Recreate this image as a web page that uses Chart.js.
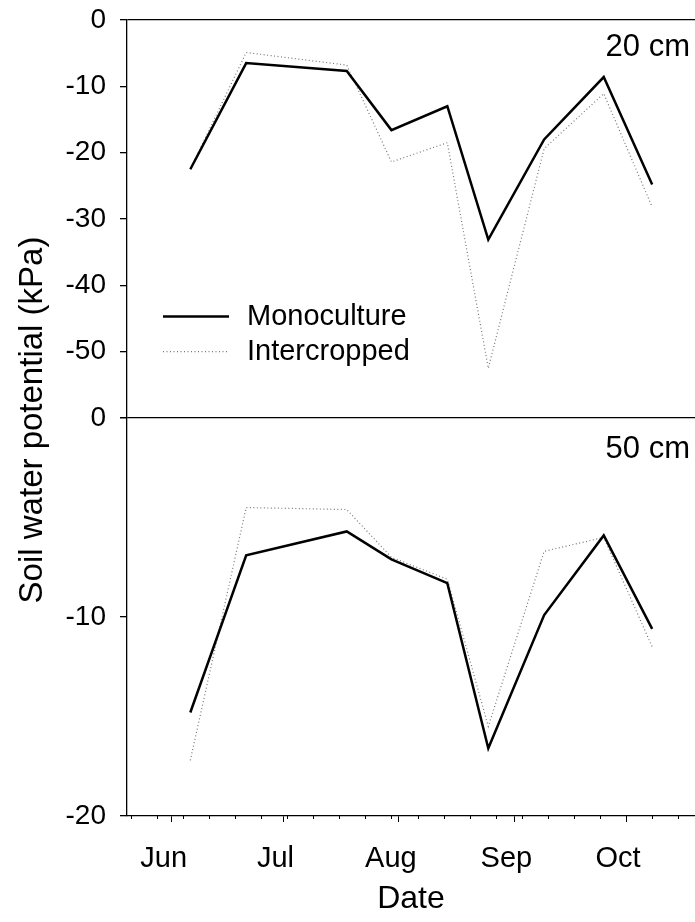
<!DOCTYPE html>
<html>
<head>
<meta charset="utf-8">
<script src="https://cdn.jsdelivr.net/npm/chart.js@4.4.1/dist/chart.umd.min.js"></script>
<style>
  html, body { margin: 0; padding: 0; background: #fff; }
</style>
</head>
<body>
<canvas id="chart" width="695" height="922"></canvas>
<script>
// sampling dates (month-day)
const dates = ["06-06", "06-21", "07-18", "07-30", "08-14", "08-25", "09-09", "09-25", "10-08"];

// soil water potential, kPa
const mono20 = [-22.5, -6.5, -7.7, -16.6, -13.0, -33.1, -18.0, -8.6, -24.8];
const inter20 = [-22.5, -4.9, -6.8, -21.4, -18.5, -52.5, -19.4, -11.1, -28.2];
const mono50 = [-14.8, -6.9, -5.7, -7.1, -8.3, -16.6, -9.9, -5.9, -10.6];
const inter50 = [-17.2, -4.5, -4.6, -7.0, -8.1, -15.5, -6.7, -6.0, -11.5];

const monthLabels = ["Jun", "Jul", "Aug", "Sep", "Oct"];
const monthStarts = ["06-01", "07-01", "08-01", "09-01", "10-01"];
const yTopTicks = [0, -10, -20, -30, -40, -50, -60];
const yBottomTicks = [0, -10, -20];

const FONT = "'Liberation Sans', Arial, sans-serif";
const cumDays = [0, 31, 59, 90, 120, 151, 181, 212, 243, 273, 304, 334];

function doy(md) {
  const [m, d] = md.split("-").map(Number);
  return cumDays[m - 1] + d;
}

const monthDoy = monthStarts.map(doy);

function points(vals) {
  return vals.map((v, i) => ({ x: doy(dates[i]), y: v }));
}

const solid = { borderColor: "#000", borderWidth: 2.5, pointRadius: 0, tension: 0, fill: false };
const dotted = { borderColor: "#777", borderWidth: 1.2, borderDash: [1, 2.5], pointRadius: 0, tension: 0, fill: false };

// extra text, legend and minor ticks
const decor = {
  id: "decor",
  afterDraw(chart) {
    const ctx = chart.ctx;
    const x = chart.scales.x;
    const yt = chart.scales.yTop;
    const yb = chart.scales.yBot;
    ctx.save();

    // weekly minor ticks
    ctx.strokeStyle = "#000";
    ctx.lineWidth = 1;
    for (let d = doy("05-21"); d <= x.max; d += 7) {
      const px = Math.round(x.getPixelForValue(d)) + 0.5;
      ctx.beginPath();
      ctx.moveTo(px, x.top);
      ctx.lineTo(px, x.top + 3);
      ctx.stroke();
    }

    ctx.fillStyle = "#000";
    ctx.font = "31px " + FONT;
    ctx.textAlign = "right";
    ctx.textBaseline = "middle";
    ctx.fillText("20 cm", chart.chartArea.right - 5, yt.top + 27);
    ctx.fillText("50 cm", chart.chartArea.right - 5, yb.top + 31);

    // legend
    const lx = 163, ly1 = yt.getPixelForValue(-44.7), ly2 = yt.getPixelForValue(-50);
    ctx.textAlign = "left";
    ctx.font = "29px " + FONT;
    ctx.beginPath();
    ctx.strokeStyle = solid.borderColor;
    ctx.lineWidth = solid.borderWidth;
    ctx.moveTo(lx, ly1);
    ctx.lineTo(lx + 66, ly1);
    ctx.stroke();
    ctx.fillText("Monoculture", lx + 84, ly1);
    ctx.beginPath();
    ctx.strokeStyle = dotted.borderColor;
    ctx.lineWidth = dotted.borderWidth;
    ctx.setLineDash(dotted.borderDash);
    ctx.moveTo(lx, ly2);
    ctx.lineTo(lx + 66, ly2);
    ctx.stroke();
    ctx.setLineDash([]);
    ctx.fillText("Intercropped", lx + 84, ly2);

    // shared y title
    ctx.font = "33px " + FONT;
    ctx.textAlign = "center";
    ctx.translate(33, 420);
    ctx.rotate(-Math.PI / 2);
    ctx.fillText("Soil water potential (kPa)", 0, 0);
    ctx.restore();
  }
};

function yAxis(min, list, labelFn) {
  return {
    type: "linear",
    position: "left",
    stack: "v",
    stackWeight: 1,
    min: min,
    max: 0,
    afterBuildTicks: (s) => { s.ticks = list.map((v) => ({ value: v })); },
    afterFit: (s) => {
      s.width = 127;
      s.paddingTop = 0;
      s.paddingBottom = 0;
    },
    ticks: {
      color: "#000",
      font: { family: FONT, size: 28 },
      padding: 14,
      callback: labelFn
    },
    grid: {
      color: (c) => (c.tick && c.tick.value === 0 ? "#000" : "rgba(0,0,0,0)"),
      lineWidth: 1.3,
      tickColor: "#000",
      tickLength: 7,
      tickWidth: 1.3
    },
    border: { display: true, color: "#000", width: 1.3 }
  };
}

new Chart(document.getElementById("chart"), {
  type: "line",
  data: {
    datasets: [
      Object.assign({ label: "Monoculture 20", data: points(mono20), yAxisID: "yTop" }, solid),
      Object.assign({ label: "Monoculture 50", data: points(mono50), yAxisID: "yBot" }, solid),
      Object.assign({ label: "Intercropped 20", data: points(inter20), yAxisID: "yTop" }, dotted),
      Object.assign({ label: "Intercropped 50", data: points(inter50), yAxisID: "yBot" }, dotted)
    ]
  },
  options: {
    responsive: false,
    animation: false,
    layout: { padding: { top: 20, right: 0, left: 0, bottom: 0 } },
    plugins: { legend: { display: false }, tooltip: { enabled: false } },
    scales: {
      x: {
        type: "linear",
        position: "bottom",
        min: 140,
        max: 292.5,
        afterBuildTicks: (s) => { s.ticks = monthDoy.map((v) => ({ value: v })); },
        afterFit: (s) => { s.height = 106; },
        ticks: {
          color: "#000",
          font: { family: FONT, size: 29 },
          padding: 20,
          labelOffset: -8,
          maxRotation: 0,
          autoSkip: false,
          callback: (v) => monthLabels[monthDoy.indexOf(v)]
        },
        grid: { drawOnChartArea: false, tickColor: "#000", tickLength: 6, tickWidth: 1 },
        border: { display: true, color: "#000", width: 1.3 },
        title: {
          display: true,
          text: "Date",
          color: "#000",
          font: { family: FONT, size: 32 },
          padding: { top: 0, bottom: 4 }
        }
      },
      yBot: yAxis(-20, yBottomTicks, (v) => String(v)),
      yTop: yAxis(-60, yTopTicks, (v) => (v === -60 ? "" : String(v)))
    }
  },
  plugins: [decor]
});
</script>
</body>
</html>
